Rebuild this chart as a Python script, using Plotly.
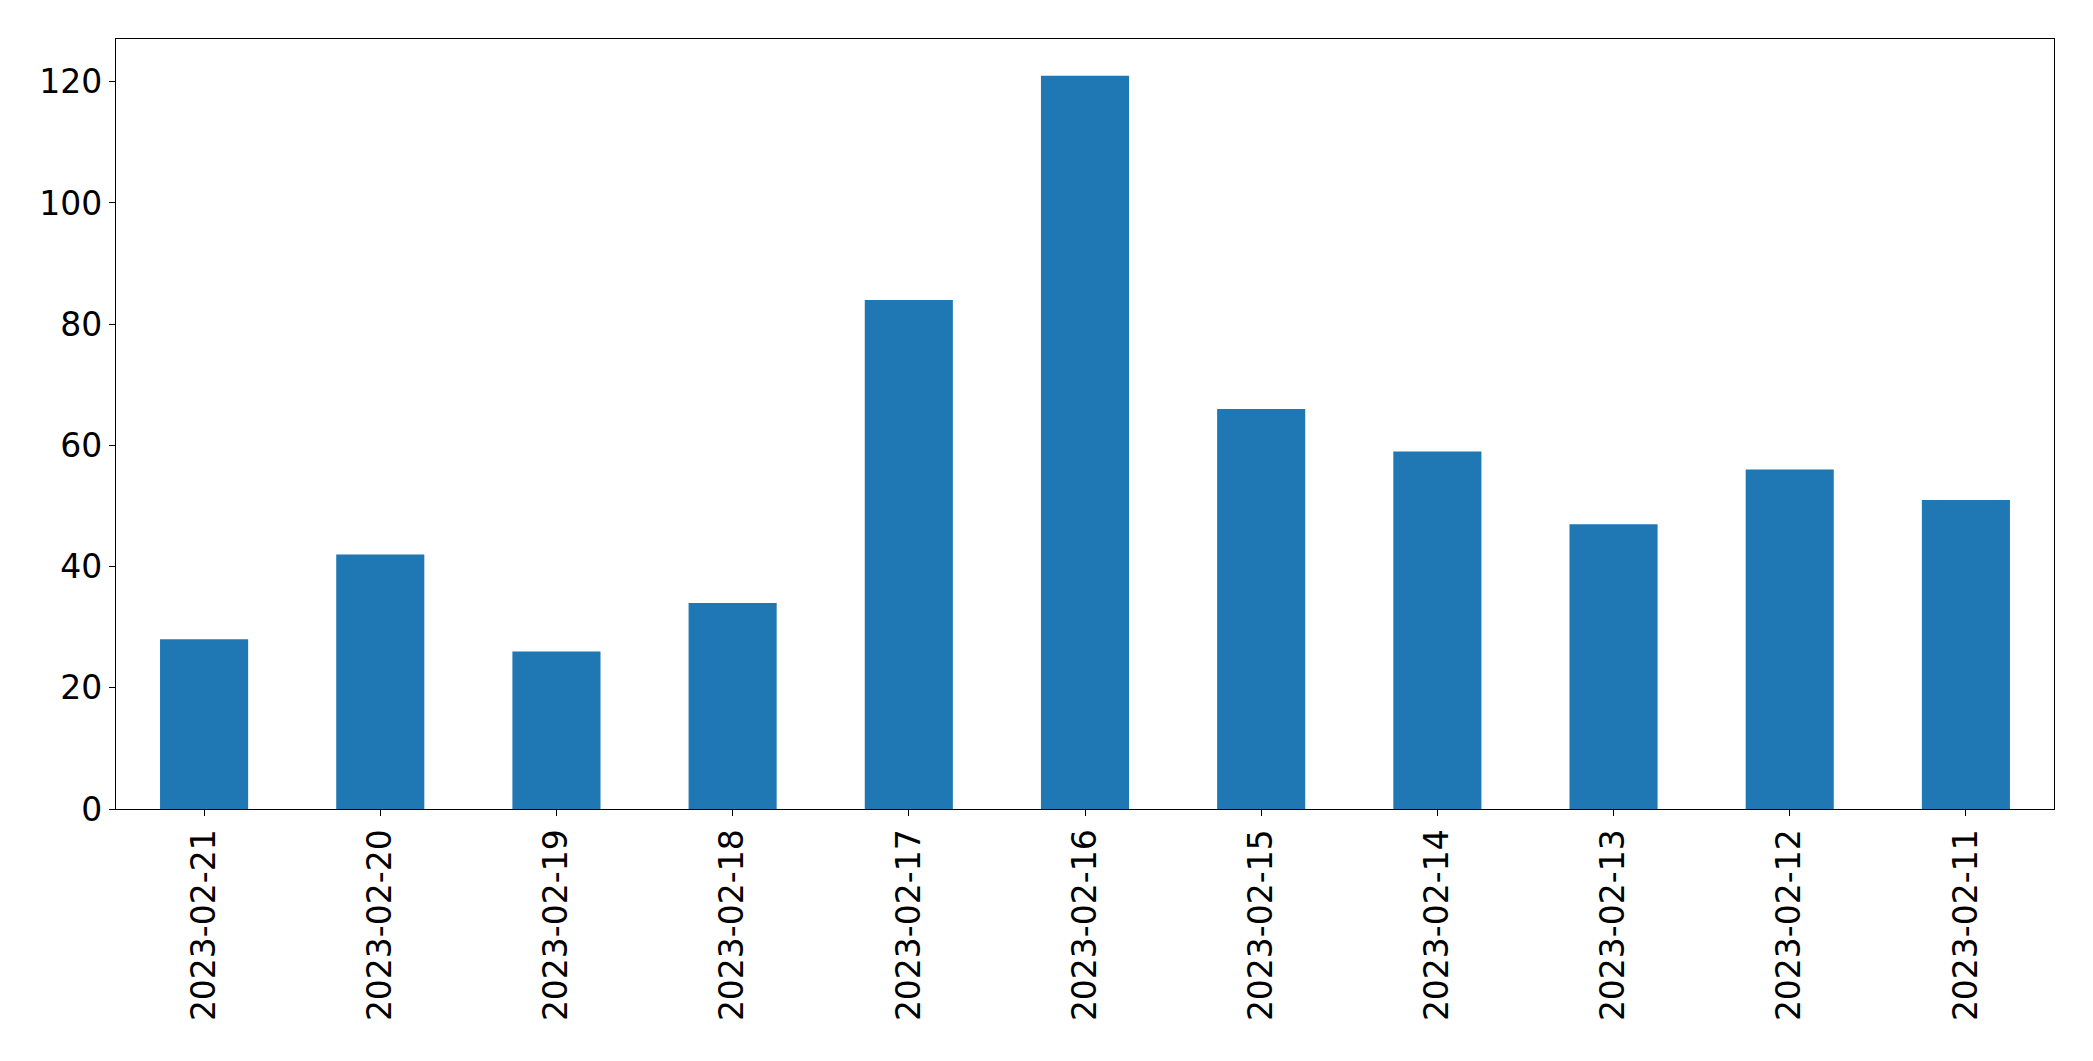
import plotly.graph_objects as go

dates = ["2023-02-21", "2023-02-20", "2023-02-19", "2023-02-18", "2023-02-17",
         "2023-02-16", "2023-02-15", "2023-02-14", "2023-02-13", "2023-02-12", "2023-02-11"]
counts = [28, 42, 26, 34, 84, 121, 66, 59, 47, 56, 51]
y_ticks = [0, 20, 40, 60, 80, 100, 120]

fig = go.Figure(go.Bar(x=dates, y=counts, width=0.5, marker=dict(color="#1f77b4", line=dict(width=0))))

font = dict(family="DejaVu Sans", size=33, color="black")
fig.update_layout(
    width=2093, height=1061,
    margin=dict(l=116, r=39, t=39, b=252),
    plot_bgcolor="white", paper_bgcolor="white",
    showlegend=False, font=font,
)
fig.update_xaxes(type="category", range=[-0.5, len(dates) - 0.5], tickangle=-90,
                 showline=True, linecolor="black", linewidth=1.3, mirror=True,
                 ticks="outside", ticklen=6, tickcolor="black", showgrid=False, tickfont=font)
fig.update_yaxes(range=[0, 127.05], tickvals=y_ticks, showline=True, linecolor="black",
                 linewidth=1.3, mirror=True, ticks="outside", ticklen=6, tickcolor="black",
                 showgrid=False, zeroline=False, tickfont=font)

fig.write_html("out.html", config={"displayModeBar": False},
               post_script="document.body.style.margin='0';")
